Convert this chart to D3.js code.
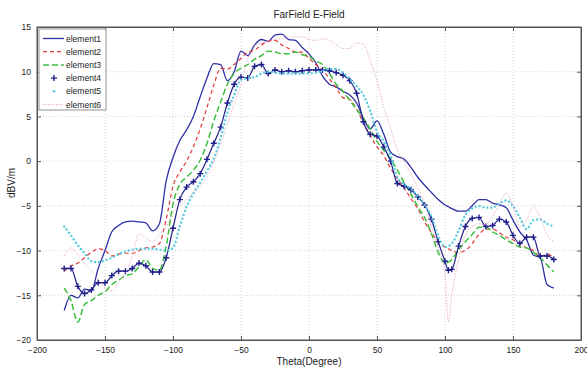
<!DOCTYPE html>
<html>
<head>
<meta charset="utf-8">
<script src="https://cdn.jsdelivr.net/npm/d3@7/dist/d3.min.js"></script>
<style>
  body { margin: 0; background: #fff; }
  svg { display: block; font-family: "Liberation Sans", Arial, sans-serif; }
</style>
</head>
<body>
<div id="chart"></div>
<script>
// theta samples (degrees)
const theta = [-180,-175,-170,-165,-160,-155,-150,-145,-140,-135,-130,-125,-120,-115,-110,-105,-100,-95,-90,-85,
  -80,-75,-70,-65,-60,-55,-50,-45,-40,-35,-30,-25,-20,-15,-10,-5,0,5,10,15,20,25,30,35,40,45,50,55,60,65,70,75,80,85,
  90,95,100,102.5,105,110,115,120,125,130,135,140,145,150,155,160,165,170,175,180];

const element1 = [-16.7,-15,-15.3,-14.3,-14.5,-12,-10,-7.9,-7.2,-6.8,-6.7,-6.8,-6.9,-7.8,-7,-2.2,0.4,2.3,3.5,5,
  7.2,9.3,10.9,10.8,9,10,12.3,11.8,13,13.6,13.4,14.1,14.2,13.6,13.5,12.7,12,11,9.5,8.6,8.3,7.8,7.4,6.5,4.8,3.6,4.5,3,1,0.5,0.2,-0.7,-1.8,-2.7,
  -3.5,-4.3,-4.9,-5.1,-5.3,-5.6,-5.6,-5,-4.3,-4.3,-4.7,-4.9,-5.2,-6.6,-7.9,-8.8,-10.5,-10.8,-13.8,-14.2];

const element2 = [-12.3,-11.7,-11.4,-10.8,-10.2,-9.8,-10,-10.6,-10.4,-10.3,-10.3,-10,-9.7,-9.6,-9.2,-6.5,-2.8,-1.2,0,1.6,
  3.6,6,8.5,10.4,10.3,10.8,11.5,12.2,12.4,13,13.4,13.5,13,12.6,12.2,12.2,11.5,10.8,10.2,9.2,8.2,7.1,6.9,5.8,4.3,2.9,1.6,0.6,-0.8,-2,-3,-4.2,-5.3,-6.8,
  -8,-9,-9.6,-9.8,-10,-10.2,-10,-9.2,-8.2,-7.6,-7.6,-8,-8.5,-8.8,-9.3,-9.7,-10,-10.7,-10.4,-10.8];

const element3 = [-14.2,-15.6,-18,-16,-15.6,-15,-14.6,-13.8,-13.3,-12.8,-12.6,-11.8,-11,-12,-12.2,-9.5,-4.8,-2.6,-1.8,-1,
  0.1,2,4.5,6.6,8.6,9.8,10.4,10.8,11.4,11.8,12.3,12.2,12,12,12.2,11.9,11.7,11.2,10.8,9.8,8.6,7.8,6.8,5.8,4.8,3.6,2.2,1.2,0.2,-1,-2.4,-3.7,-5.1,-6.3,
  -8.1,-10.2,-11.4,-11.3,-11,-9.9,-9,-8.2,-7.4,-7.4,-7.9,-8.3,-8.8,-9.2,-9.6,-9.7,-10.2,-10.8,-11.6,-12.4];

const element4 = [-12,-12,-14,-14.8,-14.4,-13.6,-13.6,-12.8,-12.3,-12.3,-12,-11.4,-11.7,-12.4,-12.4,-10.8,-7.5,-4.3,-2.9,-2.3,
  -1.4,0.2,2,3.8,6.5,8.6,9.4,9.3,10.6,10.8,9.8,10.2,10,10.1,10,10.1,10.2,10.2,10.2,10.1,9.9,9.6,9,7.6,4.4,3,2.8,1.6,0,-2.5,-2.8,-3.2,-4,-4.9,
  -6.5,-9,-11.2,-12.2,-12.1,-9.5,-7.3,-6.4,-6.3,-7.3,-7.2,-6.5,-6.8,-8.3,-9.2,-8.5,-8.5,-10.6,-10.6,-11];

const element5 = [-7.3,-8.3,-9.4,-10.3,-11.2,-11.3,-11.1,-10.8,-10.4,-10.1,-9.9,-9.8,-9.8,-9.8,-9.9,-10,-9.7,-7.3,-5.1,-3.6,
  -2.4,-1.1,0.3,2.6,5.4,7.4,9.1,9.3,9.4,9.8,10,9.9,9.8,9.8,9.8,9.8,9.8,9.9,10.1,10.3,10.3,9.9,9.2,8.4,7.4,5.6,3.3,2.2,0.6,-1.8,-2.6,-3.1,-3.9,-4.9,
  -6.2,-8.3,-9.6,-9.5,-9.2,-7.8,-6,-5.3,-5,-5.2,-5.2,-4.7,-4.4,-5,-6.3,-7.6,-6.6,-6.5,-7,-7.3];

const element6 = [-10.6,-9.7,-10.5,-11.5,-12.3,-13.2,-14.2,-14.5,-13.5,-12.5,-10.7,-8.1,-8.6,-9,-8.2,-7.3,-5.8,-5,-4.3,-3.5,
  -2.8,-1.7,-0.1,1.8,4.2,6.4,8.6,11.5,13,13.2,13.4,13.6,13.7,13.8,13.9,13.9,13.6,13.5,13.7,13.5,13,12.6,12.6,13.2,13.1,11.2,9,6,3.7,1.2,-0.1,-1.4,-3,-4.8,
  -7.3,-9.7,-12.5,-18,-15,-11,-8.3,-7.3,-7,-7.1,-6.2,-4.8,-3.6,-5,-7.3,-6.5,-5.2,-6.3,-8.2,-9];

const seriesNames = ["element1", "element2", "element3", "element4", "element5", "element6"];
const xTicks = [-200, -150, -100, -50, 0, 50, 100, 150, 200];
const yTicks = [-20, -15, -10, -5, 0, 5, 10, 15];

const WIDTH = 587, HEIGHT = 370;
const PLOT = {left: 37, right: 581, top: 27, bottom: 340};

// line styles per series
const styles = [
  {color: "#2f2fa6", width: 1.3, dash: null},
  {color: "#e4383a", width: 1.2, dash: "4,3"},
  {color: "#3cbf3c", width: 1.5, dash: "6,3"},
  {color: "#1f1f8c", width: 1.2, dash: null, marker: "plus"},
  {color: "#55cbe0", width: 2.4, dash: "0,4", cap: "round"},
  {color: "#e59ab9", width: 1, dash: "1,1.6"}
];

const svg = d3.select("#chart").append("svg")
  .attr("width", WIDTH).attr("height", HEIGHT);

const x = d3.scaleLinear().domain([-200, 200]).range([PLOT.left, PLOT.right]);
const y = d3.scaleLinear().domain([-20, 15]).range([PLOT.bottom, PLOT.top]);

// grid
const grid = svg.append("g");
grid.selectAll("line.gx").data(xTicks.slice(1, -1)).join("line")
  .attr("x1", d => x(d)).attr("x2", d => x(d))
  .attr("y1", PLOT.top).attr("y2", PLOT.bottom)
  .attr("stroke", "#c8c8c8").attr("stroke-width", 0.8).attr("stroke-dasharray", "1,2");
grid.selectAll("line.gy").data(yTicks.slice(1, -1)).join("line")
  .attr("y1", d => y(d)).attr("y2", d => y(d))
  .attr("x1", PLOT.left).attr("x2", PLOT.right)
  .attr("stroke", "#c8c8c8").attr("stroke-width", 0.8).attr("stroke-dasharray", "1,2");

// axes, ticks inward on all sides
svg.append("g").attr("transform", `translate(0,${PLOT.bottom})`)
  .call(d3.axisBottom(x).tickValues(xTicks).tickSizeInner(-4).tickSizeOuter(0).tickPadding(7));
svg.append("g").attr("transform", `translate(0,${PLOT.top})`)
  .call(d3.axisTop(x).tickValues(xTicks).tickSizeInner(-4).tickSizeOuter(0).tickFormat(""));
svg.append("g").attr("transform", `translate(${PLOT.left},0)`)
  .call(d3.axisLeft(y).tickValues(yTicks).tickSizeInner(-4).tickSizeOuter(0).tickPadding(6));
svg.append("g").attr("transform", `translate(${PLOT.right},0)`)
  .call(d3.axisRight(y).tickValues(yTicks).tickSizeInner(-4).tickSizeOuter(0).tickFormat(""));

svg.selectAll(".domain").attr("stroke", "#555");
svg.selectAll(".tick line").attr("stroke", "#555");
svg.selectAll(".tick text").attr("font-size", 8.5).attr("fill", "#222")
  .attr("font-family", "'Liberation Sans', Arial, sans-serif");

// data lines
svg.append("clipPath").attr("id", "clip").append("rect")
  .attr("x", PLOT.left).attr("y", PLOT.top)
  .attr("width", PLOT.right - PLOT.left).attr("height", PLOT.bottom - PLOT.top);

const allSeries = [element1, element2, element3, element4, element5, element6];
const line = d3.line()
  .x(d => x(d[0])).y(d => y(d[1]))
  .curve(d3.curveMonotoneX);

const plotArea = svg.append("g").attr("clip-path", "url(#clip)");
const plusPath = "M-3,0H3M0,-3V3";

allSeries.forEach((vals, i) => {
  const st = styles[i];
  const pts = theta.map((t, k) => [t, vals[k]]);
  plotArea.append("path")
    .attr("d", line(pts))
    .attr("fill", "none")
    .attr("stroke", st.color)
    .attr("stroke-width", st.width)
    .attr("stroke-dasharray", st.dash)
    .attr("stroke-linecap", st.cap || "butt");
  if (st.marker === "plus") {
    plotArea.selectAll(null).data(pts).join("path")
      .attr("d", plusPath)
      .attr("transform", d => `translate(${x(d[0])},${y(d[1])})`)
      .attr("stroke", st.color).attr("stroke-width", 1.4);
  }
});

// frame on top
svg.append("rect")
  .attr("x", PLOT.left).attr("y", PLOT.top)
  .attr("width", PLOT.right - PLOT.left).attr("height", PLOT.bottom - PLOT.top)
  .attr("fill", "none").attr("stroke", "#555").attr("stroke-width", 1);

// titles
svg.append("text").attr("x", 309).attr("y", 18).attr("text-anchor", "middle")
  .attr("font-size", 10).attr("fill", "#222").text("FarField E-Field");
svg.append("text").attr("x", 309).attr("y", 365).attr("text-anchor", "middle")
  .attr("font-size", 10).attr("fill", "#222").text("Theta(Degree)");
svg.append("text").attr("transform", "translate(15,183) rotate(-90)").attr("text-anchor", "middle")
  .attr("font-size", 10).attr("fill", "#222").text("dBV/m");

// legend
const legend = svg.append("g");
legend.append("rect").attr("x", 39).attr("y", 29).attr("width", 67).attr("height", 81)
  .attr("fill", "#fff").attr("stroke", "#777").attr("stroke-width", 0.8);

seriesNames.forEach((name, i) => {
  const st = styles[i];
  const ly = 38.5 + i * 13.2;
  if (i === 3) {
    legend.append("path").attr("d", plusPath)
      .attr("transform", `translate(54,${ly})`)
      .attr("stroke", st.color).attr("stroke-width", 1.4);
  } else if (i === 4) {
    legend.append("circle").attr("cx", 54).attr("cy", ly).attr("r", 1.3).attr("fill", st.color);
  } else {
    legend.append("line").attr("x1", 43).attr("x2", 64).attr("y1", ly).attr("y2", ly)
      .attr("stroke", st.color).attr("stroke-width", st.width)
      .attr("stroke-dasharray", st.dash);
  }
  legend.append("text").attr("x", 66).attr("y", ly + 3)
    .attr("font-size", 8.5).attr("fill", "#222").text(name);
});
</script>
</body>
</html>
